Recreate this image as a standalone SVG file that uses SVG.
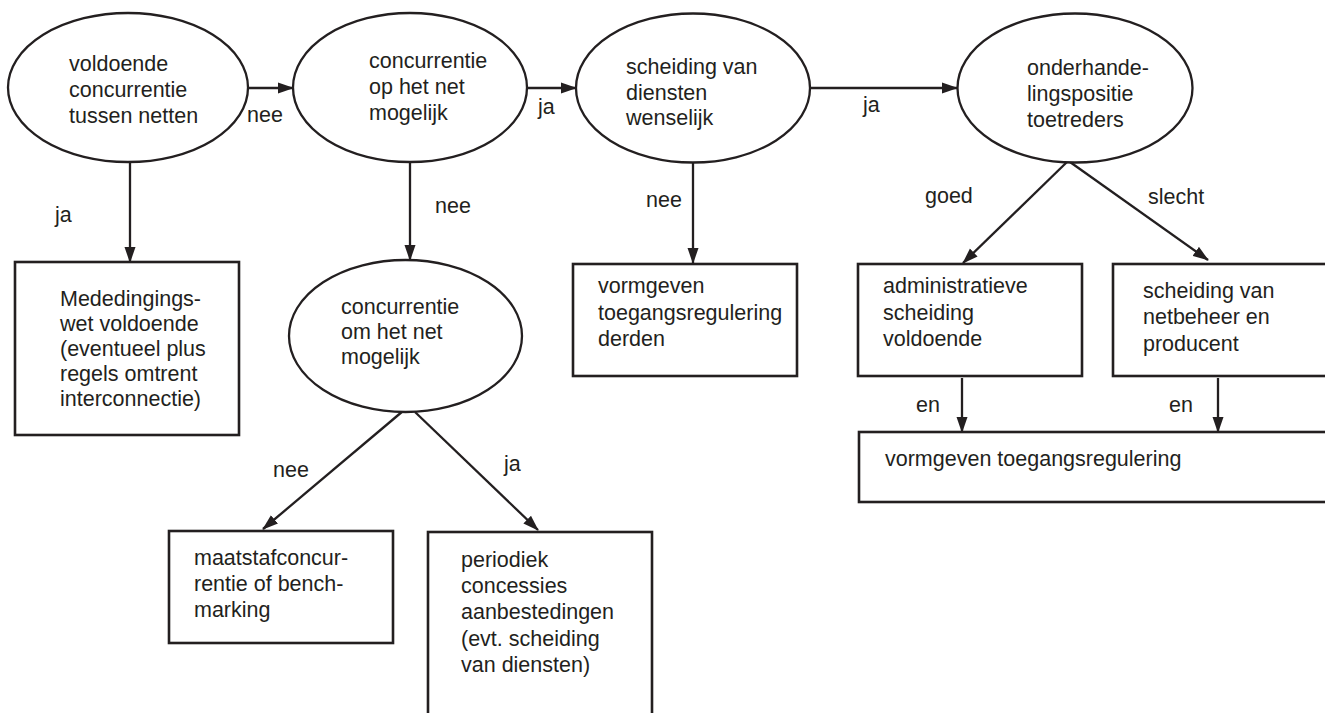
<svg xmlns="http://www.w3.org/2000/svg" width="1325" height="713" viewBox="0 0 1325 713">
<defs>
<style>
text{font-family:"Liberation Sans",Arial,sans-serif;font-size:21.5px;fill:#231f20}
.node{fill:#fff;stroke:#231f20;stroke-width:2.3}
.box{fill:#fff;stroke:#231f20;stroke-width:2.6}
.edge{stroke:#231f20;stroke-width:2.3;fill:none;marker-end:url(#ah)}
</style>
<marker id="ah" markerUnits="userSpaceOnUse" markerWidth="16" markerHeight="12" viewBox="0 0 16 12" refX="15" refY="6" orient="auto">
<path d="M0,0.5 L16,6 L0,11.5 z" fill="#231f20"/>
</marker>
</defs>
<rect width="1325" height="713" fill="#fff"/>

<g id="connectors">
<line class="edge" x1="248" y1="88" x2="293" y2="88"/>
<line class="edge" x1="527" y1="88" x2="576" y2="88"/>
<line class="edge" x1="810" y1="88" x2="957" y2="88"/>
<line class="edge" x1="130" y1="162" x2="130" y2="262"/>
<line class="edge" x1="410" y1="162" x2="410" y2="260"/>
<line class="edge" x1="693" y1="162" x2="693" y2="263"/>
<line class="edge" x1="1067" y1="162" x2="963" y2="263"/>
<line class="edge" x1="1070" y1="162" x2="1208" y2="260"/>
<line class="edge" x1="403" y1="411" x2="263" y2="529"/>
<line class="edge" x1="415" y1="412" x2="538" y2="530"/>
<line class="edge" x1="962" y1="378" x2="962" y2="432"/>
<line class="edge" x1="1218" y1="378" x2="1218" y2="432"/>
<text x="247" y="122">nee</text>
<text x="538" y="114">ja</text>
<text x="863" y="112">ja</text>
<text x="55" y="222">ja</text>
<text x="435" y="213">nee</text>
<text x="646" y="207">nee</text>
<text x="925" y="203">goed</text>
<text x="1148" y="204">slecht</text>
<text x="273" y="477">nee</text>
<text x="504" y="471">ja</text>
<text x="916" y="412">en</text>
<text x="1169" y="412">en</text>
</g>

<g id="e1">
<ellipse class="node" cx="128" cy="87.5" rx="120" ry="74.5"/>
<text x="69" y="71">voldoende</text>
<text x="69" y="97">concurrentie</text>
<text x="69" y="123">tussen netten</text>
</g>

<g id="e2">
<ellipse class="node" cx="410" cy="87.5" rx="117" ry="74.5"/>
<text x="369" y="68">concurrentie</text>
<text x="369" y="94">op het net</text>
<text x="369" y="120">mogelijk</text>
</g>

<g id="e3">
<ellipse class="node" cx="693" cy="88" rx="117" ry="74.5"/>
<text x="626" y="74">scheiding van</text>
<text x="626" y="100">diensten</text>
<text x="626" y="125">wenselijk</text>
</g>

<g id="e4">
<ellipse class="node" cx="1075" cy="88" rx="117.5" ry="74.5"/>
<text x="1027" y="75">onderhande-</text>
<text x="1027" y="101">lingspositie</text>
<text x="1027" y="127">toetreders</text>
</g>

<g id="b1">
<rect class="box" x="15" y="262" width="224" height="173"/>
<text x="60" y="306">Mededingings-</text>
<text x="60" y="331">wet voldoende</text>
<text x="60" y="356">(eventueel plus</text>
<text x="60" y="381">regels omtrent</text>
<text x="60" y="406">interconnectie)</text>
</g>

<g id="e5">
<ellipse class="node" cx="405.5" cy="336" rx="116.5" ry="76"/>
<text x="341" y="314">concurrentie</text>
<text x="341" y="339">om het net</text>
<text x="341" y="364">mogelijk</text>
</g>

<g id="b2">
<rect class="box" x="169" y="531" width="224" height="112"/>
<text x="194" y="565">maatstafconcur-</text>
<text x="194" y="591">rentie of bench-</text>
<text x="194" y="617">marking</text>
</g>

<g id="b3">
<rect class="box" x="428" y="532" width="224" height="200"/>
<text x="461" y="567">periodiek</text>
<text x="461" y="593">concessies</text>
<text x="461" y="619">aanbestedingen</text>
<text x="461" y="646">(evt. scheiding</text>
<text x="461" y="672">van diensten)</text>
</g>

<g id="b4">
<rect class="box" x="573" y="264" width="224" height="112"/>
<text x="598" y="293">vormgeven</text>
<text x="598" y="320">toegangsregulering</text>
<text x="598" y="346">derden</text>
</g>

<g id="b5">
<rect class="box" x="858" y="264" width="224" height="112"/>
<text x="883" y="293">administratieve</text>
<text x="883" y="320">scheiding</text>
<text x="883" y="346">voldoende</text>
</g>

<g id="b6">
<rect class="box" x="1113" y="264" width="240" height="112"/>
<text x="1143" y="298">scheiding van</text>
<text x="1143" y="324">netbeheer en</text>
<text x="1143" y="351">producent</text>
</g>

<g id="b7">
<rect class="box" x="859" y="432" width="490" height="70"/>
<text x="885" y="466">vormgeven toegangsregulering</text>
</g>
</svg>
